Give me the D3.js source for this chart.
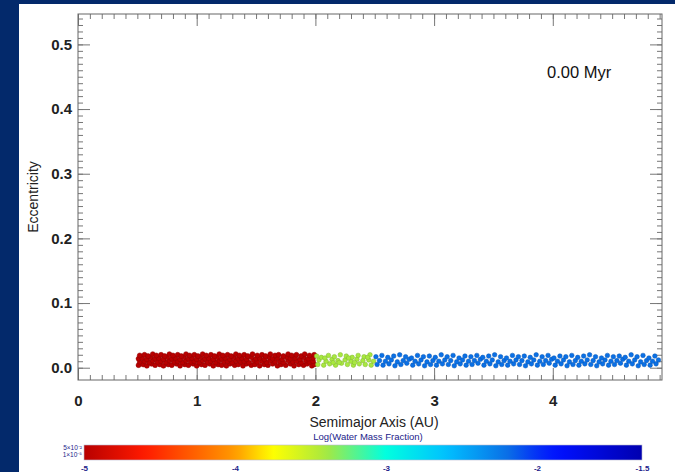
<!DOCTYPE html>
<html>
<head>
<meta charset="utf-8">
<script src="https://cdn.jsdelivr.net/npm/d3@7"></script>
<style>
body { margin: 0; background: #fff; }
text { font-family: "Liberation Sans", Arial, sans-serif; }
</style>
</head>
<body>
<svg id="chart" width="675" height="472"></svg>
<script>
// tick labels
var xMajor = [0, 1, 2, 3, 4];
var yMajor = [0.0, 0.1, 0.2, 0.3, 0.4, 0.5];
var cbarTicks = [-5, -4, -3, -2, -1.5];
var cbarTickLabels = ["-5", "-4", "-3", "-2", "-1.5"];
var cbarEndLabels = ["5\u00d710\u207b\u00b2", "1\u00d710\u207b\u2075"];
var timeLabel = "0.00 Myr";

// log water mass fraction of each population
var waterLog = { inner: -5, mid: -3.4, outer: -2.2 };

// bodies: [semimajor axis (AU), eccentricity]
var innerBodies = [
  [0.51,.004],[0.55,.005],[0.58,.003],[0.62,.006],[0.65,.004],[0.69,.005],[0.72,.003],[0.76,.005],[0.79,.004],[0.83,.006],
  [0.86,.003],[0.90,.005],[0.93,.004],[0.97,.006],[1.00,.003],[1.04,.005],[1.07,.004],[1.11,.006],[1.14,.003],[1.18,.005],
  [1.21,.004],[1.25,.003],[1.28,.006],[1.32,.004],[1.35,.005],[1.39,.003],[1.42,.006],[1.46,.004],[1.49,.005],[1.53,.003],
  [1.57,.005],[1.60,.004],[1.64,.006],[1.68,.003],[1.71,.005],[1.75,.004],[1.79,.006],[1.82,.003],[1.86,.005],[1.90,.004],
  [1.93,.006],[1.97,.003],[1.99,.005],
  [0.52,.009],[0.56,.010],[0.60,.008],[0.63,.011],[0.67,.009],[0.70,.010],[0.74,.008],[0.77,.011],[0.81,.009],[0.84,.010],
  [0.88,.008],[0.91,.011],[0.95,.009],[0.98,.010],[1.02,.008],[1.05,.011],[1.09,.009],[1.12,.010],[1.16,.008],[1.19,.011],
  [1.23,.009],[1.26,.010],[1.30,.008],[1.33,.011],[1.37,.009],[1.40,.010],[1.44,.008],[1.48,.011],[1.51,.009],[1.55,.010],
  [1.59,.008],[1.62,.011],[1.66,.009],[1.70,.010],[1.73,.008],[1.77,.011],[1.81,.009],[1.84,.010],[1.88,.008],[1.92,.011],
  [1.95,.009],[1.98,.010],
  [0.51,.014],[0.54,.015],[0.58,.013],[0.61,.016],[0.65,.014],[0.68,.015],[0.72,.013],[0.75,.016],[0.79,.014],[0.82,.015],
  [0.86,.013],[0.89,.016],[0.93,.014],[0.96,.015],[1.00,.013],[1.03,.016],[1.07,.014],[1.10,.015],[1.14,.013],[1.17,.016],
  [1.21,.014],[1.24,.015],[1.28,.013],[1.31,.016],[1.35,.014],[1.38,.015],[1.42,.013],[1.46,.016],[1.50,.014],[1.53,.015],
  [1.57,.013],[1.61,.016],[1.64,.014],[1.68,.015],[1.72,.013],[1.76,.016],[1.79,.014],[1.83,.015],[1.87,.013],[1.90,.016],
  [1.94,.014],[1.98,.015],
  [0.52,.019],[0.56,.020],[0.59,.018],[0.63,.021],[0.66,.019],[0.70,.020],[0.73,.018],[0.77,.021],[0.80,.019],[0.84,.020],
  [0.87,.018],[0.91,.021],[0.94,.019],[0.98,.020],[1.01,.018],[1.05,.021],[1.08,.019],[1.12,.020],[1.15,.018],[1.19,.021],
  [1.22,.019],[1.26,.020],[1.29,.018],[1.33,.021],[1.36,.019],[1.40,.020],[1.43,.018],[1.47,.021],[1.51,.019],[1.55,.020],
  [1.58,.018],[1.62,.021],[1.66,.019],[1.69,.020],[1.73,.018],[1.77,.021],[1.80,.019],[1.84,.020],[1.88,.018],[1.91,.021],
  [1.95,.019],[1.99,.020]
];
var midBodies = [
  [2.02,.005],[2.07,.004],[2.12,.006],[2.17,.004],[2.22,.007],[2.27,.005],[2.32,.004],[2.37,.006],[2.42,.005],[2.47,.004],
  [2.03,.012],[2.09,.010],[2.14,.013],[2.19,.011],[2.25,.012],[2.30,.010],[2.35,.013],[2.40,.011],[2.45,.012],[2.49,.010],
  [2.01,.018],[2.05,.016],[2.11,.019],[2.16,.017],[2.21,.020],[2.26,.018],[2.31,.016],[2.36,.019],[2.41,.017],[2.46,.020],
  [2.08,.015],[2.20,.008],[2.33,.008],[2.44,.016],[2.15,.008],[2.28,.015]
];
var outerBodies = [
  [2.52,.005],[2.57,.004],[2.62,.006],[2.67,.003],[2.72,.005],[2.77,.007],[2.82,.004],[2.87,.006],[2.92,.003],[2.97,.005],
  [3.02,.004],[3.07,.006],[3.12,.005],[3.17,.003],[3.22,.006],[3.27,.004],[3.32,.005],[3.37,.007],[3.42,.004],[3.47,.006],
  [3.52,.003],[3.57,.005],[3.62,.004],[3.67,.006],[3.72,.005],[3.77,.003],[3.82,.006],[3.87,.004],[3.92,.005],[3.97,.007],
  [4.02,.004],[4.07,.006],[4.12,.003],[4.17,.005],[4.22,.004],[4.27,.006],[4.32,.005],[4.37,.003],[4.42,.006],[4.47,.004],
  [4.52,.005],[4.57,.007],[4.62,.004],[4.67,.006],[4.72,.003],[4.77,.005],[4.82,.004],[4.87,.006],
  [2.54,.011],[2.59,.010],[2.64,.012],[2.69,.009],[2.74,.011],[2.79,.013],[2.84,.010],[2.89,.012],[2.94,.009],[2.99,.011],
  [3.04,.010],[3.09,.012],[3.14,.011],[3.19,.009],[3.24,.012],[3.29,.010],[3.34,.011],[3.39,.013],[3.44,.010],[3.49,.012],
  [3.54,.009],[3.59,.011],[3.64,.010],[3.69,.012],[3.74,.011],[3.79,.009],[3.84,.012],[3.89,.010],[3.94,.011],[3.99,.013],
  [4.04,.010],[4.09,.012],[4.14,.009],[4.19,.011],[4.24,.010],[4.29,.012],[4.34,.011],[4.39,.009],[4.44,.012],[4.49,.010],
  [4.54,.011],[4.59,.013],[4.64,.010],[4.69,.012],[4.74,.009],[4.79,.011],[4.84,.010],[4.89,.012],
  [2.51,.017],[2.56,.019],[2.61,.016],[2.66,.018],[2.71,.020],[2.76,.017],[2.81,.015],[2.86,.019],[2.91,.017],[2.96,.018],
  [3.01,.016],[3.06,.020],[3.11,.017],[3.16,.019],[3.21,.015],[3.26,.018],[3.31,.017],[3.36,.019],[3.41,.016],[3.46,.018],
  [3.51,.020],[3.56,.017],[3.61,.015],[3.66,.019],[3.71,.017],[3.76,.018],[3.81,.016],[3.86,.020],[3.91,.017],[3.96,.019],
  [4.01,.015],[4.06,.018],[4.11,.017],[4.16,.019],[4.21,.016],[4.26,.018],[4.31,.020],[4.36,.017],[4.41,.015],[4.46,.019],
  [4.51,.017],[4.56,.018],[4.61,.016],[4.66,.020],[4.71,.017],[4.76,.019],[4.81,.015],[4.86,.018]
];

// colour table (log water fraction -> colour)
var cmapValues = [-5, -4.6, -4, -3.75, -3.4, -3.0, -2.6, -2.2, -1.9, -1.5];
var cmapColors = ["#b80000", "#ff1a00", "#ff9a00", "#ffff00", "#a8e840", "#00ffe0", "#00c0ff", "#0a70e6", "#0010ff", "#0000b0"];

var svg = d3.select("#chart");
var plotL = 78, plotR = 662, plotT = 14, plotB = 380;

// backdrop
svg.append("rect").attr("width", 675).attr("height", 472).attr("fill", "#fff");
svg.append("rect").attr("width", 675).attr("height", 4).attr("fill", "#03296b");
svg.append("rect").attr("width", 19).attr("height", 472).attr("fill", "#03296b");

var x = d3.scaleLinear().domain([0, 4.92]).range([plotL, plotR]);
var y = d3.scaleLinear().domain([-0.019, 0.547]).range([plotB, plotT]);
var color = d3.scaleLinear().domain(cmapValues).range(cmapColors);
var cx = d3.scaleLinear().domain([-5, -2, -1.5]).range([84, 537, 642]);

var xMinor = d3.range(0, 4.921, 0.1);
var yMinor = d3.range(0, 0.547, 0.01);

function styleAxis(g) {
  g.select(".domain").remove();
  g.selectAll(".tick line").attr("stroke", "#777");
  g.selectAll(".tick text").attr("fill", "#222").attr("font-size", 15).attr("font-weight", "bold");
}

// bottom
svg.append("g").attr("transform", "translate(0," + plotB + ")")
  .call(d3.axisBottom(x).tickValues(xMinor).tickSize(-5).tickFormat("")).call(styleAxis);
svg.append("g").attr("transform", "translate(0," + plotB + ")")
  .call(d3.axisBottom(x).tickValues(xMajor).tickSize(-12).tickPadding(15).tickFormat(d3.format("d"))).call(styleAxis);
// top
svg.append("g").attr("transform", "translate(0," + plotT + ")")
  .call(d3.axisTop(x).tickValues(xMinor).tickSize(-5).tickFormat("")).call(styleAxis);
svg.append("g").attr("transform", "translate(0," + plotT + ")")
  .call(d3.axisTop(x).tickValues(xMajor).tickSize(-12).tickFormat("")).call(styleAxis);
// left
svg.append("g").attr("transform", "translate(" + plotL + ",0)")
  .call(d3.axisLeft(y).tickValues(yMinor).tickSize(-5).tickFormat("")).call(styleAxis);
svg.append("g").attr("transform", "translate(" + plotL + ",0)")
  .call(d3.axisLeft(y).tickValues(yMajor).tickSize(-12).tickPadding(6).tickFormat(d3.format(".1f"))).call(styleAxis);
// right
svg.append("g").attr("transform", "translate(" + plotR + ",0)")
  .call(d3.axisRight(y).tickValues(yMinor).tickSize(-5).tickFormat("")).call(styleAxis);
svg.append("g").attr("transform", "translate(" + plotR + ",0)")
  .call(d3.axisRight(y).tickValues(yMajor).tickSize(-12).tickFormat("")).call(styleAxis);

svg.append("rect")
  .attr("x", plotL).attr("y", plotT).attr("width", plotR - plotL).attr("height", plotB - plotT)
  .attr("fill", "none").attr("stroke", "#666");

// bodies
svg.append("clipPath").attr("id", "plotclip").append("rect")
  .attr("x", plotL).attr("y", plotT).attr("width", plotR - plotL).attr("height", plotB - plotT);
var pts = svg.append("g").attr("clip-path", "url(#plotclip)");
[[innerBodies, waterLog.inner, 2.5], [midBodies, waterLog.mid, 2.3], [outerBodies, waterLog.outer, 2.3]].forEach(function(p) {
  var c = color(p[1]);
  pts.selectAll(null).data(p[0]).enter().append("circle")
    .attr("cx", function(d) { return x(d[0]); })
    .attr("cy", function(d) { return y(d[1]); })
    .attr("r", p[2])
    .attr("fill", c)
    .attr("stroke", d3.color(c).darker(0.7))
    .attr("stroke-width", 0.5);
});

// labels
svg.append("text").attr("x", 547).attr("y", 78).attr("font-size", 16.5).attr("fill", "#111").text(timeLabel);
svg.append("text").attr("transform", "translate(33,197) rotate(-90)").attr("dy", "0.35em")
  .attr("text-anchor", "middle").attr("font-size", 14).attr("fill", "#222").text("Eccentricity");
svg.append("text").attr("x", 374).attr("y", 427).attr("text-anchor", "middle")
  .attr("font-size", 14).attr("fill", "#222").text("Semimajor Axis (AU)");
svg.append("text").attr("x", 368).attr("y", 440).attr("text-anchor", "middle")
  .attr("font-size", 9.5).attr("fill", "#22228a").text("Log(Water Mass Fraction)");

// colour bar
var grad = svg.append("defs").append("linearGradient").attr("id", "cbar");
d3.range(0, 1.0001, 0.02).forEach(function(t) {
  var v = cx.invert(84 + t * (642 - 84));
  grad.append("stop").attr("offset", t).attr("stop-color", color(v));
});
svg.append("rect").attr("x", 84).attr("y", 445).attr("width", 642 - 84).attr("height", 15)
  .attr("fill", "url(#cbar)").attr("stroke", "#b8b8d0").attr("stroke-width", 0.6);

var cb = svg.append("g").attr("transform", "translate(0,460)")
  .call(d3.axisBottom(cx).tickValues(cbarTicks).tickSize(0).tickPadding(5)
    .tickFormat(function(d, i) { return cbarTickLabels[i]; }));
cb.select(".domain").remove();
cb.selectAll(".tick text").attr("fill", "#22228a").attr("font-size", 8).attr("font-weight", "bold");

svg.selectAll(null).data(cbarEndLabels).enter().append("text")
  .attr("x", 82).attr("y", function(d, i) { return 450 + i * 7; })
  .attr("text-anchor", "end").attr("font-size", 6.5).attr("fill", "#22228a").text(function(d) { return d; });
</script>
</body>
</html>
